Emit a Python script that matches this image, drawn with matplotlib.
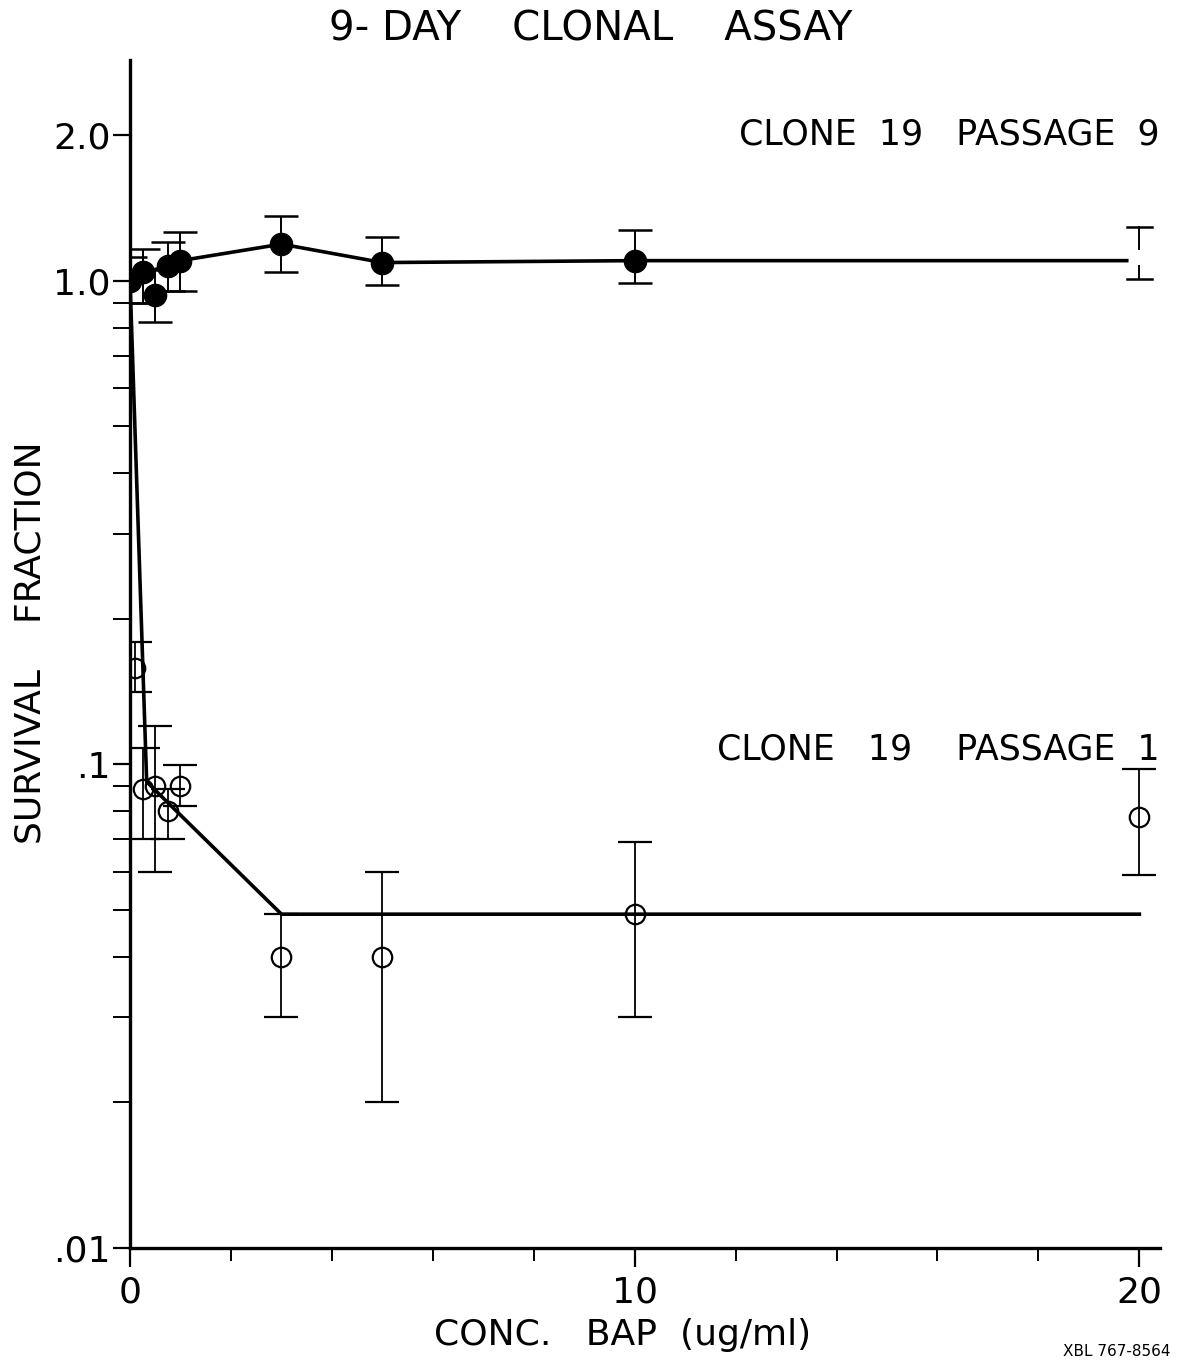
import matplotlib
matplotlib.use("Agg")
import matplotlib.pyplot as plt
import numpy as np
from matplotlib.ticker import FixedLocator, LogLocator, NullFormatter

# Clone 19 passage 9 (filled circles)
p9_x = [0, 0.25, 0.5, 0.75, 1, 3, 5, 10]
p9_y = [1.0, 1.04, 0.935, 1.07, 1.10, 1.19, 1.09, 1.10]
p9_lo = [0.90, 0.90, 0.82, 0.95, 0.95, 1.04, 0.98, 0.99]
p9_hi = [1.12, 1.16, 1.05, 1.20, 1.26, 1.36, 1.23, 1.27]
# error bar at 20 drawn without a marker in the original
p9_end_x = 20
p9_end_lo, p9_end_hi = 1.01, 1.29
p9_curve_x = [0, 0.25, 0.75, 1, 3, 5, 10, 19.75]
p9_curve_y = [1.0, 1.04, 1.07, 1.10, 1.19, 1.09, 1.10, 1.10]

# Clone 19 passage 1 (open circles)
p1_x = [0.1, 0.25, 0.5, 0.75, 1, 3, 5, 10, 20]
p1_y = [0.158, 0.089, 0.090, 0.080, 0.090, 0.040, 0.040, 0.049, 0.078]
p1_lo = [0.141, 0.070, 0.060, 0.070, 0.082, 0.030, 0.020, 0.030, 0.059]
p1_hi = [0.179, 0.108, 0.120, 0.089, 0.0995, 0.049, 0.060, 0.069, 0.098]
p1_curve_x = [0, 0.33, 3, 20]
p1_curve_y = [1.0, 0.092, 0.049, 0.049]

fig = plt.figure(figsize=(11.82, 13.62), dpi=100)
ax = fig.add_axes([0.110, 0.0837, 0.871, 0.8723])
ax.set_yscale('log')
ax.set_xlim(0, 20.4)
ax.set_ylim(0.01, 2.86)

font = 'DejaVu Sans'
black = 'black'

# fitted curves
ax.plot(p9_curve_x, p9_curve_y, color=black, lw=2.6, zorder=3)
ax.plot(p1_curve_x, p1_curve_y, color=black, lw=2.6, zorder=3)

# passage 9 points
err9 = [np.array(p9_y) - np.array(p9_lo), np.array(p9_hi) - np.array(p9_y)]
ax.errorbar(p9_x, p9_y, yerr=err9, fmt='o', color=black, ms=16, mfc=black,
            ecolor=black, elinewidth=1.4, capsize=12, capthick=1.8, zorder=4)
ax.plot([p9_end_x, p9_end_x], [p9_end_lo, 1.07], color=black, lw=1.4)
ax.plot([p9_end_x, p9_end_x], [1.16, p9_end_hi], color=black, lw=1.4)
ax.plot([p9_end_x - 0.25, p9_end_x + 0.25], [p9_end_lo, p9_end_lo], color=black, lw=1.8)
ax.plot([p9_end_x - 0.25, p9_end_x + 0.25], [p9_end_hi, p9_end_hi], color=black, lw=1.8)

# passage 1 points
err1 = [np.array(p1_y) - np.array(p1_lo), np.array(p1_hi) - np.array(p1_y)]
ax.errorbar(p1_x, p1_y, yerr=err1, fmt='o', color=black, ms=14, mfc='none',
            mew=1.6, ecolor=black, elinewidth=1.3, capsize=12, capthick=1.6, zorder=4)

# axes styling
for side in ['top', 'right']:
    ax.spines[side].set_visible(False)
ax.spines['left'].set_linewidth(2.4)
ax.spines['bottom'].set_linewidth(2.4)

ax.xaxis.set_major_locator(FixedLocator([0, 10, 20]))
ax.xaxis.set_minor_locator(FixedLocator([2, 4, 6, 8, 12, 14, 16, 18]))
ax.set_xticklabels(['0', '10', '20'], fontsize=26, family=font)
ax.tick_params(axis='x', which='major', direction='out', length=14, width=1.6, pad=6)
ax.tick_params(axis='x', which='minor', direction='out', length=9, width=1.4)

ax.yaxis.set_major_locator(FixedLocator([0.01, 0.1, 1.0, 2.0]))
ax.set_yticklabels(['.01', '.1', '1.0', '2.0'], fontsize=26, family=font)
ax.yaxis.set_minor_locator(LogLocator(base=10, subs=np.arange(2, 10) * 1.0))
ax.yaxis.set_minor_formatter(NullFormatter())
ax.tick_params(axis='y', which='major', direction='out', length=12, width=1.6, pad=2)
ax.tick_params(axis='y', which='minor', direction='out', length=12, width=1.4)

fig.text(0.527, 0.020, 'CONC.   BAP  (ug/ml)', ha='center', va='center',
         fontsize=26, family=font)
fig.text(0.026, 0.528, 'SURVIVAL    FRACTION', ha='center', va='center',
         rotation=90, fontsize=26, family=font)

fig.text(0.50, 0.978, '9- DAY    CLONAL    ASSAY', ha='center', va='center',
         fontsize=29, family=font)
ax.text(1.0, 0.937, 'CLONE  19   PASSAGE  9', transform=ax.transAxes,
        ha='right', va='center', fontsize=25, family=font)
ax.text(1.0, 0.420, 'CLONE   19    PASSAGE  1', transform=ax.transAxes,
        ha='right', va='center', fontsize=25, family=font)
fig.text(0.99, 0.002, 'XBL 767-8564', ha='right', va='bottom', fontsize=11, family=font)

fig.savefig('out.png', dpi=100, facecolor='white')
